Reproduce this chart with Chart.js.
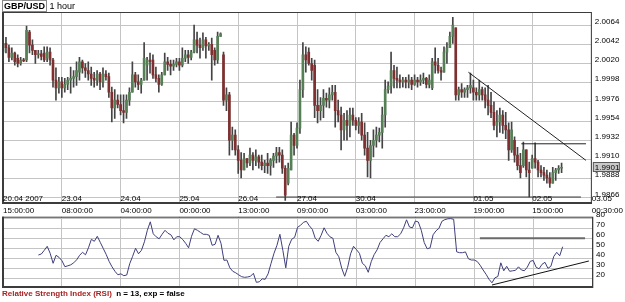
<!DOCTYPE html>
<html>
<head>
<meta charset="utf-8">
<script src="https://cdn.jsdelivr.net/npm/chart.js@4.4.1/dist/chart.umd.min.js"></script>
<style>
  html, body { margin: 0; padding: 0; background: #fff; }
  body { width: 625px; height: 302px; position: relative; overflow: hidden; font-family: "Liberation Sans", Arial, sans-serif; }
  #priceBox { position: absolute; left: 0; top: 0; width: 625px; height: 216px; }
  #rsiBox { position: absolute; left: 0; top: 206px; width: 625px; height: 96px; }
  #hdr { position: absolute; left: 2px; top: 0; font-size: 9px; line-height: 10px; color: #000; }
  #hdr .sym { display: inline-block; border: 1px solid #8a8a8a; padding: 0 1px; font-weight: bold; }
  #leg { position: absolute; left: 2px; top: 289px; font-size: 8px; font-weight: bold; color: #000; white-space: nowrap; }
  #leg .nm { color: #a82424; }
</style>
</head>
<body>
<div id="priceBox"><canvas id="priceChart"></canvas></div>
<div id="rsiBox"><canvas id="rsiChart"></canvas></div>
<div id="hdr"><span class="sym">GBP/USD</span> 1 hour</div>
<div id="leg"><span class="nm">Relative Strength Index (RSI)</span>&nbsp; n = 13, exp = false</div>
<script>
// GBP/USD 1 hour, bars 0..190
const opens = [
  2.0033, 2.0043, 2.0038, 2.0027, 2.0032, 2.0026, 2.0020, 2.0024, 2.0024, 2.0056,
  2.0041, 2.0035, 2.0030, 2.0031, 2.0032, 2.0026, 2.0033, 2.0024, 2.0001, 1.9992,
  1.9999, 1.9992, 1.9996, 2.0001, 2.0003, 2.0005, 2.0010, 2.0022, 2.0015, 2.0012,
  2.0008, 2.0003, 2.0001, 2.0008, 1.9999, 2.0008, 2.0005, 1.9987, 1.9969, 1.9978,
  1.9973, 1.9966, 1.9964, 1.9978, 1.9987, 2.0007, 1.9999, 1.9996, 2.0001, 2.0018,
  2.0024, 2.0024, 2.0007, 2.0003, 1.9996, 2.0007, 2.0022, 2.0019, 2.0017, 2.0019,
  2.0022, 2.0018, 2.0026, 2.0030, 2.0027, 2.0033, 2.0047, 2.0041, 2.0038, 2.0047,
  2.0040, 2.0042, 2.0035, 2.0024, 2.0051, 2.0030, 1.9978, 1.9984, 1.9932, 1.9938,
  1.9921, 1.9909, 1.9898, 1.9911, 1.9906, 1.9915, 1.9909, 1.9913, 1.9907, 1.9903,
  1.9906, 1.9903, 1.9909, 1.9914, 1.9918, 1.9915, 1.9900, 1.9883, 1.9898, 1.9938,
  1.9926, 1.9946, 1.9990, 2.0030, 2.0033, 2.0020, 2.0018, 1.9972, 1.9966, 1.9972,
  1.9980, 1.9978, 1.9984, 1.9987, 1.9966, 1.9961, 1.9944, 1.9955, 1.9949, 1.9961,
  1.9955, 1.9949, 1.9953, 1.9938, 1.9923, 1.9909, 1.9926, 1.9932, 1.9938, 1.9941,
  1.9961, 1.9990, 1.9994, 2.0012, 2.0003, 2.0001, 1.9999, 2.0001, 1.9999, 2.0001,
  1.9996, 2.0001, 1.9999, 2.0001, 2.0003, 1.9996, 1.9992, 2.0022, 2.0018, 2.0012,
  2.0010, 2.0033, 2.0038, 2.0051, 2.0061, 1.9984, 1.9990, 1.9987, 1.9990, 1.9992,
  1.9992, 1.9987, 1.9984, 1.9990, 1.9984, 1.9978, 1.9972, 1.9964, 1.9949, 1.9953,
  1.9961, 1.9949, 1.9944, 1.9921, 1.9932, 1.9915, 1.9903, 1.9903, 1.9921, 1.9898,
  1.9900, 1.9911, 1.9907, 1.9898, 1.9895, 1.9892, 1.9889, 1.9883, 1.9895, 1.9898,
  1.9900
];
const highs = [
  2.0052, 2.0050, 2.0041, 2.0038, 2.0033, 2.0030, 2.0027, 2.0026, 2.0063, 2.0058,
  2.0047, 2.0035, 2.0035, 2.0035, 2.0039, 2.0039, 2.0038, 2.0026, 2.0015, 2.0004,
  2.0004, 2.0003, 2.0004, 2.0016, 2.0012, 2.0022, 2.0027, 2.0024, 2.0020, 2.0022,
  2.0016, 2.0010, 2.0012, 2.0010, 2.0015, 2.0012, 2.0009, 1.9993, 1.9990, 1.9984,
  1.9984, 1.9984, 1.9984, 1.9992, 2.0022, 2.0010, 2.0007, 2.0003, 2.0044, 2.0027,
  2.0032, 2.0030, 2.0016, 2.0007, 2.0010, 2.0032, 2.0027, 2.0024, 2.0024, 2.0026,
  2.0026, 2.0038, 2.0035, 2.0035, 2.0035, 2.0064, 2.0056, 2.0049, 2.0055, 2.0050,
  2.0044, 2.0049, 2.0038, 2.0056, 2.0055, 2.0033, 1.9992, 1.9987, 1.9947, 1.9944,
  1.9926, 1.9918, 1.9917, 1.9911, 1.9923, 1.9918, 1.9921, 1.9915, 1.9915, 1.9909,
  1.9917, 1.9911, 1.9917, 1.9924, 1.9924, 1.9921, 1.9903, 1.9906, 1.9953, 1.9940,
  1.9952, 2.0001, 2.0044, 2.0039, 2.0038, 2.0026, 2.0024, 1.9990, 1.9981, 1.9990,
  1.9986, 1.9992, 1.9995, 1.9995, 1.9978, 1.9970, 1.9963, 1.9966, 1.9969, 1.9969,
  1.9958, 1.9958, 1.9963, 1.9952, 1.9941, 1.9932, 1.9944, 1.9947, 1.9946, 1.9970,
  2.0001, 1.9999, 2.0033, 2.0018, 2.0016, 2.0007, 2.0004, 2.0004, 2.0007, 2.0004,
  2.0007, 2.0004, 2.0007, 2.0009, 2.0004, 2.0007, 2.0026, 2.0038, 2.0026, 2.0016,
  2.0039, 2.0044, 2.0056, 2.0073, 2.0061, 1.9993, 1.9997, 1.9992, 1.9995, 2.0009,
  2.0001, 1.9992, 2.0001, 1.9993, 1.9992, 1.9995, 1.9987, 1.9976, 1.9966, 1.9969,
  1.9966, 1.9964, 1.9952, 1.9953, 1.9936, 1.9924, 1.9917, 1.9930, 1.9921, 1.9907,
  1.9915, 1.9929, 1.9909, 1.9903, 1.9901, 1.9898, 1.9895, 1.9901, 1.9900, 1.9903,
  1.9906
];
const lows = [
  2.0030, 2.0032, 2.0022, 2.0024, 2.0018, 2.0016, 2.0018, 2.0022, 2.0022, 2.0032,
  2.0030, 2.0020, 2.0026, 2.0024, 2.0022, 2.0022, 2.0018, 1.9993, 1.9978, 1.9986,
  1.9981, 1.9987, 1.9990, 1.9986, 1.9993, 1.9995, 2.0001, 2.0009, 2.0004, 2.0001,
  1.9995, 1.9993, 1.9995, 1.9990, 1.9993, 2.0001, 1.9981, 1.9953, 1.9957, 1.9969,
  1.9961, 1.9952, 1.9957, 1.9972, 1.9987, 1.9993, 1.9990, 1.9986, 2.0001, 2.0001,
  2.0009, 2.0003, 1.9999, 1.9987, 1.9995, 2.0007, 2.0012, 2.0007, 2.0012, 2.0016,
  2.0012, 2.0016, 2.0022, 2.0020, 2.0024, 2.0032, 2.0032, 2.0026, 2.0035, 2.0026,
  2.0035, 2.0001, 2.0018, 2.0020, 2.0051, 1.9972, 1.9966, 1.9915, 1.9921, 1.9915,
  1.9894, 1.9889, 1.9898, 1.9901, 1.9903, 1.9898, 1.9903, 1.9900, 1.9898, 1.9895,
  1.9894, 1.9892, 1.9901, 1.9906, 1.9907, 1.9894, 1.9863, 1.9881, 1.9898, 1.9915,
  1.9923, 1.9940, 1.9981, 2.0010, 2.0018, 2.0001, 1.9958, 1.9952, 1.9955, 1.9958,
  1.9970, 1.9969, 1.9978, 1.9947, 1.9953, 1.9921, 1.9932, 1.9932, 1.9936, 1.9949,
  1.9944, 1.9940, 1.9932, 1.9915, 1.9890, 1.9889, 1.9913, 1.9924, 1.9930, 1.9923,
  1.9947, 1.9986, 1.9986, 1.9992, 1.9992, 1.9992, 1.9993, 1.9992, 1.9992, 1.9990,
  1.9995, 1.9993, 1.9995, 1.9997, 1.9992, 1.9992, 1.9990, 2.0009, 2.0009, 2.0001,
  2.0010, 2.0020, 2.0038, 2.0043, 1.9978, 1.9978, 1.9981, 1.9981, 1.9981, 1.9986,
  1.9978, 1.9978, 1.9978, 1.9978, 1.9969, 1.9961, 1.9958, 1.9944, 1.9936, 1.9941,
  1.9940, 1.9934, 1.9909, 1.9918, 1.9907, 1.9898, 1.9889, 1.9901, 1.9890, 1.9867,
  1.9900, 1.9900, 1.9890, 1.9890, 1.9886, 1.9883, 1.9878, 1.9883, 1.9886, 1.9894,
  1.9895
];
const closes = [
  2.0043, 2.0038, 2.0027, 2.0032, 2.0022, 2.0020, 2.0024, 2.0023, 2.0058, 2.0041,
  2.0035, 2.0030, 2.0031, 2.0028, 2.0024, 2.0033, 2.0024, 2.0001, 1.9992, 1.9999,
  1.9992, 1.9996, 2.0001, 2.0003, 2.0005, 2.0012, 2.0022, 2.0015, 2.0012, 2.0008,
  2.0003, 2.0001, 2.0008, 1.9999, 2.0008, 2.0005, 1.9987, 1.9969, 1.9978, 1.9973,
  1.9966, 1.9964, 1.9978, 1.9987, 2.0007, 1.9999, 1.9996, 2.0001, 2.0026, 2.0024,
  2.0022, 2.0007, 2.0003, 1.9996, 2.0007, 2.0022, 2.0019, 2.0017, 2.0019, 2.0022,
  2.0018, 2.0026, 2.0030, 2.0027, 2.0033, 2.0047, 2.0041, 2.0038, 2.0047, 2.0040,
  2.0042, 2.0030, 2.0024, 2.0051, 2.0054, 1.9978, 1.9984, 1.9932, 1.9938, 1.9921,
  1.9909, 1.9898, 1.9911, 1.9906, 1.9915, 1.9909, 1.9913, 1.9907, 1.9903, 1.9906,
  1.9903, 1.9909, 1.9914, 1.9918, 1.9915, 1.9900, 1.9869, 1.9900, 1.9938, 1.9926,
  1.9946, 1.9990, 2.0030, 2.0024, 2.0020, 2.0012, 1.9972, 1.9966, 1.9972, 1.9980,
  1.9978, 1.9984, 1.9987, 1.9966, 1.9961, 1.9944, 1.9955, 1.9949, 1.9961, 1.9955,
  1.9949, 1.9953, 1.9938, 1.9923, 1.9909, 1.9926, 1.9932, 1.9938, 1.9941, 1.9961,
  1.9990, 1.9994, 2.0012, 2.0003, 2.0001, 1.9999, 2.0001, 1.9999, 2.0001, 1.9996,
  2.0001, 1.9999, 2.0001, 2.0003, 1.9996, 2.0001, 2.0022, 2.0018, 2.0012, 2.0010,
  2.0033, 2.0038, 2.0051, 2.0064, 1.9984, 1.9990, 1.9987, 1.9990, 1.9992, 1.9995,
  1.9987, 1.9984, 1.9990, 1.9984, 1.9978, 1.9972, 1.9964, 1.9949, 1.9953, 1.9961,
  1.9949, 1.9944, 1.9921, 1.9944, 1.9915, 1.9903, 1.9895, 1.9921, 1.9898, 1.9895,
  1.9911, 1.9907, 1.9898, 1.9895, 1.9892, 1.9889, 1.9883, 1.9895, 1.9898, 1.9900,
  1.9901
];
// RSI(13), first 12 bars have no value
const rsiValues = [
  null, null, null, null, null, null, null, null, null, null, null, null,
  43.3, 44.3, 48, 52, 45, 35, 43, 41,
  37.6, 31.6, 32.5, 33.5, 35.5, 38.5, 43, 46, 43.5, 50.5,
  59, 57, 62, 56, 50, 44, 37, 31.5, 27, 23.5,
  24.5, 22.6, 23.3, 34.5, 42, 50, 44.5, 48, 56.5, 68,
  76.5, 64.5, 61.5, 59.5, 64, 68, 65, 63.5, 58.5, 61.6,
  61.6, 58.8, 55, 50.5, 62, 69.5, 68, 66, 64, 64,
  63, 53, 54, 63, 55, 38, 38.3, 30.5, 27, 25.5,
  23.5, 21.6, 21, 21.3, 22, 25, 16, 16.5, 19.5, 19,
  24.5, 35, 45, 53, 64, 48, 30.5, 52, 59, 61,
  71, 73, 76, 77, 72.5, 69, 60, 57, 63, 70.5,
  65, 61.5, 60, 46, 41.6, 30, 22, 31, 44.5, 52,
  48.6, 45, 35, 32.5, 26, 36.6, 43.7, 48.5, 55.8, 59.5,
  63, 61.6, 64.5, 61.6, 61.6, 64.5, 70.5, 78.5, 71.3, 70.5,
  77.3, 76.3, 68, 55.7, 49.5, 50.5, 63.5, 67.5, 70, 77,
  78.7, 79.5, 79.7, 79, 46.5, 45.6, 45.6, 46.4, 39.5, 38.3,
  38.3, 36.8, 33, 28.3, 24, 19, 15.5, 20.5, 21.8, 35.5,
  27.5, 32, 27, 27.5, 28, 31.5, 28.3, 27.6, 31.2, 37,
  37.8, 31, 29.5, 34, 36, 30, 32, 42, 46, 42.5,
  51.6
];

// x axis: bar index of each labelled gridline
const tickBars = [0, 20, 40, 60, 80, 100, 120, 140, 160, 180, 200.3];
const dateLabels = ['20.04 2007', '23.04', '24.04', '25.04', '26.04', '27.04', '30.04', '', '01.05', '02.05', '03.05'];
const timeLabels = ['15:00:00', '08:00:00', '04:00:00', '00:00:00', '13:00:00', '09:00:00', '03:00:00', '23:00:00', '19:00:00', '15:00:00', '00:30:00'];
// y axis ticks
const priceTicks = [1.9866, 1.9888, 1.9910, 1.9932, 1.9954, 1.9976, 1.9998, 2.0020, 2.0042, 2.0064];
const rsiTicks = [20, 30, 40, 50, 60, 70, 80];

// drawn lines: [bar, value] end points
const trendLine = [[158.3, 2.0010], [198.3, 1.9909]];
const resistanceLine = [[176.3, 1.9928], [198.3, 1.9928]];
const supportLine = [[92.9, 1.9867], [196.6, 1.9867]];
const rsiLevel = [[161.9, 60], [197.6, 60]];
const rsiTrend = [[166, 13.3], [198.9, 37.3]];

Chart.defaults.font.family = '"Liberation Sans", Arial, sans-serif';
Chart.defaults.font.size = 8;
Chart.defaults.color = '#000';

const gridColor = '#c4c4c4';
const toPts = arr => arr.map(p => ({ x: p[0], y: p[1] }));

function xAxis(showLabels) {
  return {
    type: 'linear', min: -0.35, max: 200.3, offset: false,
    afterBuildTicks: s => { s.ticks = tickBars.map(v => ({ value: v })); },
    afterFit: s => { s.height = showLabels ? 12 : 0; },
    grid: { color: gridColor, drawTicks: false, offset: false },
    border: { display: false },
    ticks: {
      display: showLabels, autoSkip: false, maxRotation: 0, align: 'start', padding: 2,
      callback: (v, i) => timeLabels[i]
    }
  };
}

function yAxis(min, max, tickList, offset, fmt) {
  return {
    position: 'right', min: min, max: max,
    afterBuildTicks: s => { s.ticks = tickList.map(v => ({ value: v })); },
    afterFit: s => { s.width = 32; },
    grid: { color: gridColor, drawTicks: false },
    border: { display: false },
    ticks: { autoSkip: false, padding: 3, labelOffset: offset, callback: fmt }
  };
}

// panel frame
const frame = {
  id: 'frame',
  afterDraw(chart) {
    const { ctx, chartArea: a } = chart;
    ctx.save();
    ctx.strokeStyle = '#3c3c3c';
    ctx.lineWidth = 1;
    ctx.strokeRect(a.left + 0.5, a.top + 0.5, a.right - a.left - 1, a.bottom - a.top - 1);
    ctx.lineWidth = 2;
    ctx.beginPath();
    ctx.moveTo(a.left + 1, a.top);
    ctx.lineTo(a.left + 1, a.bottom - 1);
    ctx.lineTo(a.right, a.bottom - 1);
    ctx.stroke();
    ctx.restore();
  }
};

// dates inside the price panel + last price box
const priceExtras = {
  id: 'priceExtras',
  afterDraw(chart) {
    const { ctx, chartArea: a, scales } = chart;
    ctx.save();
    ctx.font = '8px "Liberation Sans", Arial, sans-serif';
    ctx.fillStyle = '#000';
    ctx.textAlign = 'left';
    ctx.textBaseline = 'bottom';
    tickBars.forEach((v, i) => {
      if (dateLabels[i]) ctx.fillText(dateLabels[i], scales.x.getPixelForValue(v), a.bottom - 1);
    });
    const last = closes[closes.length - 1];
    const y = Math.round(scales.y.getPixelForValue(last));
    ctx.fillStyle = '#c9c9c9';
    ctx.fillRect(a.right + 1, y - 5, 27, 10);
    ctx.strokeStyle = '#5a5a5a';
    ctx.lineWidth = 1;
    ctx.strokeRect(a.right + 1.5, y - 4.5, 26, 9);
    ctx.fillStyle = '#000';
    ctx.textBaseline = 'middle';
    ctx.fillText(last.toFixed(4), a.right + 3, y + 0.5);
    ctx.restore();
  }
};

new Chart(document.getElementById('priceChart'), {
  type: 'bar',
  data: {
    datasets: [
      {
        data: highs.map((h, i) => ({ x: i, y: [lows[i], h] })),
        backgroundColor: '#444444', barThickness: 1, grouped: false, order: 3
      },
      {
        data: opens.map((o, i) => ({ x: i, y: [o, closes[i]] })),
        backgroundColor: opens.map((o, i) => closes[i] >= o ? '#557f55' : '#7f2f2f'),
        barThickness: 2, minBarLength: 1, grouped: false, order: 2
      },
      { type: 'line', data: toPts(supportLine), borderColor: '#3a3a3a', borderWidth: 1, pointRadius: 0, order: 1 },
      { type: 'line', data: toPts(resistanceLine), borderColor: '#222', borderWidth: 1, pointRadius: 0, order: 1 },
      { type: 'line', data: toPts(trendLine), borderColor: '#222', borderWidth: 1, pointRadius: 0, order: 1 }
    ]
  },
  options: {
    responsive: true,
    maintainAspectRatio: false,
    animation: false,
    events: [],
    layout: { padding: { top: 12, left: 2, right: 0, bottom: 0 } },
    plugins: { legend: { display: false }, tooltip: { enabled: false } },
    scales: {
      x: xAxis(true),
      y: yAxis(1.9859, 2.0079, priceTicks, -3.5, v => v.toFixed(4))
    }
  },
  plugins: [frame, priceExtras]
});

new Chart(document.getElementById('rsiChart'), {
  type: 'line',
  data: {
    datasets: [
      {
        data: rsiValues.map((v, i) => ({ x: i, y: v })),
        borderColor: '#3e3e7c', borderWidth: 1, pointRadius: 0, tension: 0
      },
      { data: toPts(rsiLevel), borderColor: '#6a6a6a', borderWidth: 2, pointRadius: 0 },
      { data: toPts(rsiTrend), borderColor: '#111', borderWidth: 1, pointRadius: 0 }
    ]
  },
  options: {
    responsive: true,
    maintainAspectRatio: false,
    animation: false,
    events: [],
    layout: { padding: { top: 10.7, left: 2, right: 0, bottom: 14 } },
    plugins: { legend: { display: false }, tooltip: { enabled: false } },
    scales: {
      x: xAxis(false),
      y: yAxis(10.3, 81.6, rsiTicks, -4, v => String(v))
    }
  },
  plugins: [frame]
});
</script>
</body>
</html>
